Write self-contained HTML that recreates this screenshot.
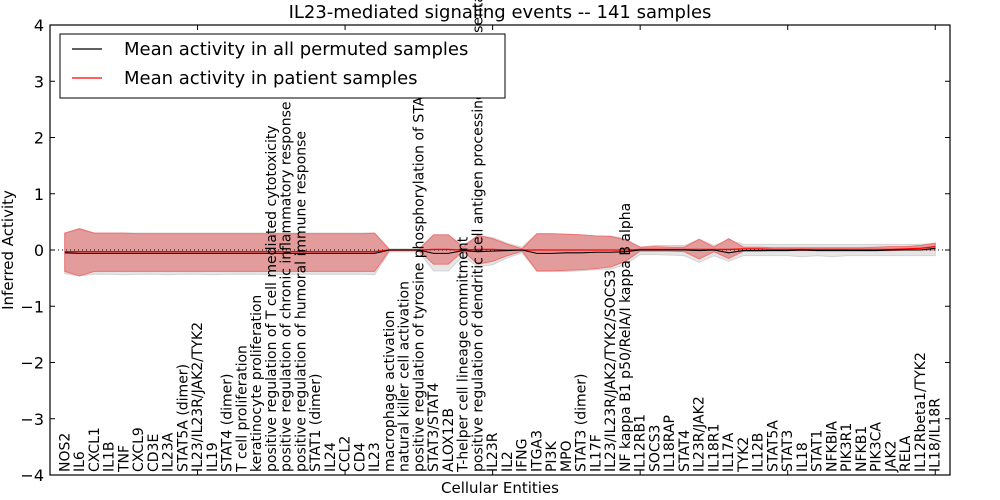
<!DOCTYPE html>
<html><head><meta charset="utf-8"><style>
body{margin:0;background:#fff;}
svg{display:block;font-family:"DejaVu Sans","Liberation Sans",sans-serif;}
</style></head><body>
<svg id="chart" width="1000" height="500" viewBox="0 0 1000 500" xmlns="http://www.w3.org/2000/svg">
<rect x="0" y="0" width="1000" height="500" fill="#fff"/>
<g id="bands"></g><g id="lines"></g><g id="labels"></g><g id="axes"></g><g id="legend"></g>
</svg>
<script>
const categories=["NOS2","IL6","CXCL1","IL1B","TNF","CXCL9","CD3E","IL23A","STAT5A (dimer)","IL23/IL23R/JAK2/TYK2","IL19","STAT4 (dimer)","T cell proliferation","keratinocyte proliferation","positive regulation of T cell mediated cytotoxicity","positive regulation of chronic inflammatory response","positive regulation of humoral immune response","STAT1 (dimer)","IL24","CCL2","CD4","IL23","macrophage activation","natural killer cell activation","positive regulation of tyrosine phosphorylation of STAT protein","STAT3/STAT4","ALOX12B","T-helper cell lineage commitment","positive regulation of dendritic cell antigen processing and presentation","IL23R","IL2","IFNG","ITGA3","PI3K","MPO","STAT3 (dimer)","IL17F","IL23/IL23R/JAK2/TYK2/SOCS3","NF kappa B1 p50/RelA/I kappa B alpha","IL12RB1","SOCS3","IL18RAP","STAT4","IL23R/JAK2","IL18R1","IL17A","TYK2","IL12B","STAT5A","STAT3","IL18","STAT1","NFKBIA","PIK3R1","NFKB1","PIK3CA","JAK2","RELA","IL12Rbeta1/TYK2","IL18/IL18R"];
const permMean=[-0.05,-0.06,-0.06,-0.06,-0.06,-0.06,-0.06,-0.06,-0.06,-0.06,-0.06,-0.06,-0.06,-0.06,-0.06,-0.06,-0.06,-0.06,-0.06,-0.06,-0.06,-0.06,0,0,0,-0.06,-0.06,-0.01,-0.03,-0.02,-0.01,0,-0.06,-0.06,-0.05,-0.05,-0.04,-0.04,-0.03,0,0,0,0,-0.01,0,-0.05,-0.01,-0.01,-0.01,-0.01,0,-0.01,-0.01,-0.01,-0.01,-0.01,0,0,0,0.03];
const permHi=[0.3,0.36,0.3,0.3,0.3,0.3,0.3,0.3,0.3,0.3,0.3,0.3,0.3,0.3,0.3,0.3,0.3,0.3,0.3,0.3,0.3,0.3,0.02,0.02,0.02,0.27,0.27,0.08,0.26,0.22,0.12,0.05,0.29,0.29,0.28,0.27,0.25,0.25,0.2,0.05,0.08,0.08,0.08,0.19,0.08,0.18,0.1,0.1,0.1,0.1,0.1,0.1,0.1,0.1,0.1,0.1,0.1,0.1,0.1,0.12];
const permLo=[-0.42,-0.46,-0.43,-0.43,-0.44,-0.43,-0.43,-0.44,-0.43,-0.43,-0.44,-0.43,-0.43,-0.43,-0.44,-0.43,-0.43,-0.43,-0.43,-0.43,-0.43,-0.44,-0.03,-0.03,-0.03,-0.37,-0.37,-0.1,-0.3,-0.26,-0.14,-0.05,-0.38,-0.38,-0.38,-0.37,-0.35,-0.34,-0.26,-0.08,-0.08,-0.09,-0.1,-0.22,-0.1,-0.2,-0.1,-0.1,-0.1,-0.1,-0.12,-0.1,-0.12,-0.1,-0.1,-0.1,-0.1,-0.1,-0.1,-0.1];
const patMean=[-0.03,-0.03,-0.03,-0.03,-0.03,-0.03,-0.03,-0.03,-0.03,-0.03,-0.03,-0.03,-0.03,-0.03,-0.03,-0.03,-0.03,-0.03,-0.03,-0.03,-0.03,-0.03,0,0,0,0.01,0.01,0,0.01,0.01,0,0,0,0,0,0,0,0,0,0.01,0.01,0.01,0.01,0.01,0.01,0.01,0.02,0.02,0.01,0.01,0.01,0.01,0.01,0.01,0.01,0.01,0.01,0.02,0.03,0.06];
const patHi=[0.3,0.38,0.3,0.3,0.3,0.29,0.29,0.29,0.29,0.29,0.29,0.29,0.29,0.29,0.29,0.29,0.29,0.29,0.29,0.29,0.29,0.3,0.01,0.01,0.01,0.27,0.27,0.05,0.26,0.2,0.1,0.02,0.29,0.29,0.28,0.27,0.25,0.24,0.18,0.05,0.06,0.05,0.05,0.19,0.05,0.2,0.05,0.05,0.04,0.04,0.04,0.04,0.04,0.04,0.04,0.05,0.06,0.06,0.08,0.12];
const patLo=[-0.38,-0.46,-0.38,-0.38,-0.38,-0.38,-0.38,-0.38,-0.38,-0.38,-0.38,-0.38,-0.38,-0.38,-0.38,-0.38,-0.38,-0.38,-0.38,-0.38,-0.38,-0.38,-0.01,-0.01,-0.01,-0.25,-0.25,-0.02,-0.25,-0.2,-0.1,-0.02,-0.37,-0.37,-0.36,-0.35,-0.33,-0.3,-0.2,-0.02,-0.02,-0.02,-0.03,-0.16,-0.03,-0.15,-0.02,-0.02,-0.01,-0.01,-0.01,-0.01,-0.01,-0.01,-0.01,-0.01,-0.01,0,0,0];
const yTicks=[-4,-3,-2,-1,0,1,2,3,4];
const xTicks=[0,10,20,30,40,50,60];

const NS="http://www.w3.org/2000/svg";
const L=50,R=950,T=25,B=475,XMAX=61,YMIN=-4,YMAX=4;
const xs=i=>L+(i)*(R-L)/XMAX;
const px=i=>xs(i+1);
const py=v=>B-(v-YMIN)*(B-T)/(YMAX-YMIN);
function mk(tag,attrs,parent){const e=document.createElementNS(NS,tag);for(const k in attrs)e.setAttribute(k,attrs[k]);parent.appendChild(e);return e;}
const bands=document.getElementById('bands'),lines=document.getElementById('lines'),labels=document.getElementById('labels'),axes=document.getElementById('axes'),legend=document.getElementById('legend');

function bandPath(hi,lo){let d='';hi.forEach((v,i)=>{d+=(i?'L':'M')+px(i)+','+py(v);});for(let i=lo.length-1;i>=0;i--)d+='L'+px(i)+','+py(lo[i]);return d+'Z';}
function linePath(a){return a.map((v,i)=>(i?'L':'M')+px(i)+','+py(v)).join('');}

const gb=mk('path',{d:bandPath(permHi,permLo),fill:'#d3d3d3','fill-opacity':'0.6',stroke:'#d3d3d3'},bands);


const rb=mk('path',{d:bandPath(patHi,patLo),fill:'#e06060','fill-opacity':'0.55',stroke:'#f07070','stroke-width':'1'},bands);


const zl=mk('line',{x1:L,x2:R,y1:py(0),y2:py(0),stroke:'#000','stroke-width':'1','stroke-dasharray':'1,3'},lines);


const rl=mk('path',{d:linePath(patMean),fill:'none',stroke:'#ff0000','stroke-width':'1.3'},lines);


const bl=mk('path',{d:linePath(permMean),fill:'none',stroke:'#000','stroke-width':'1.1'},lines);



categories.forEach((c,i)=>{
  const x=px(i)+4.5,y=472;
  const t=mk('text',{x:x,y:y,transform:`rotate(-90 ${x} ${y})`,'font-size':'14',fill:'#000'},labels);
  t.textContent=c;
  
  
});

const frame=mk('rect',{x:L,y:T,width:R-L,height:B-T,fill:'none',stroke:'#000','stroke-width':'1.2'},axes);


yTicks.forEach(v=>{
  const y=py(v);
  mk('line',{x1:L,x2:L+5,y1:y,y2:y,stroke:'#000'},axes);
  mk('line',{x1:R,x2:R-5,y1:y,y2:y,stroke:'#000'},axes);
  const t=mk('text',{x:L-6,y:y+6,'text-anchor':'end','font-size':'16',fill:'#000'},axes);
  t.textContent=v<0?'\u2212'+(-v):String(v);
  
  
});
xTicks.forEach(v=>{
  const x=xs(v);
  mk('line',{x1:x,x2:x,y1:T,y2:T+5,stroke:'#000'},axes);
  mk('line',{x1:x,x2:x,y1:B,y2:B-5,stroke:'#000'},axes);
});
const title=mk('text',{x:500,y:18,'text-anchor':'middle','font-size':'18',fill:'#000'},axes);
title.textContent='IL23-mediated signaling events -- 141 samples';


const xl=mk('text',{x:500,y:493,'text-anchor':'middle','font-size':'15',fill:'#000'},axes);
xl.textContent='Cellular Entities';


const yl=mk('text',{x:13,y:250,'text-anchor':'middle','font-size':'15',fill:'#000',transform:'rotate(-90 13 250)'},axes);
yl.textContent='Inferred Activity';



const lb=mk('rect',{x:60,y:34,width:445,height:64,fill:'#fff',stroke:'#000','stroke-width':'1'},legend);


[['Mean activity in all permuted samples','#000',49],['Mean activity in patient samples','#ff0000',78]].forEach(([s,c,y])=>{
  mk('line',{x1:72,x2:102,y1:y,y2:y,stroke:c,'stroke-width':'1.3'},legend);
  const t=mk('text',{x:124,y:y+6,'font-size':'18',fill:'#000'},legend);
  t.textContent=s;
  
  
});
</script>
</body></html>
